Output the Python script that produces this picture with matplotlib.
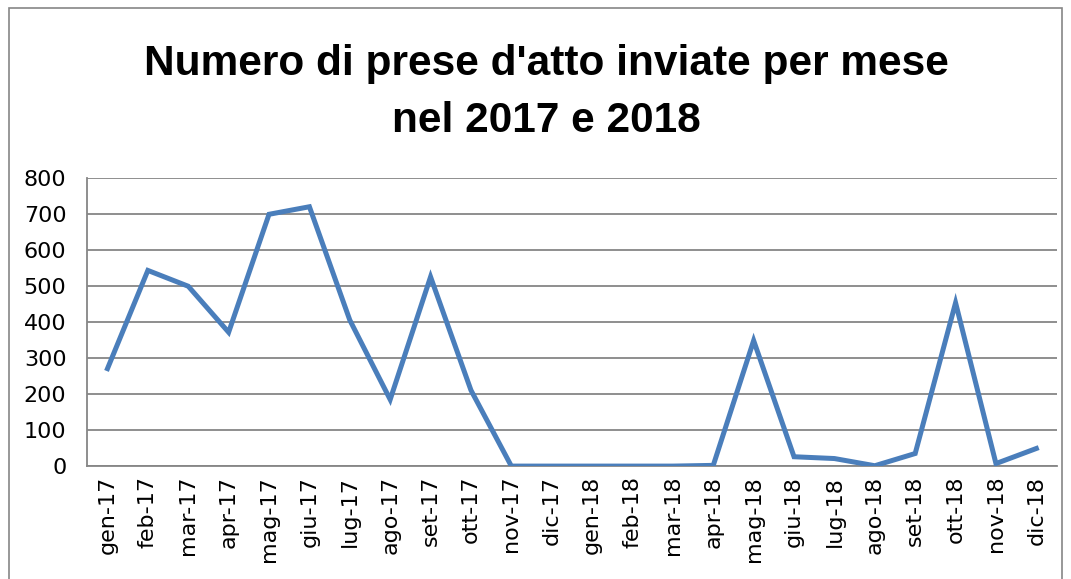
import matplotlib.pyplot as plt
from matplotlib.patches import Rectangle

mesi = ["gen-17", "feb-17", "mar-17", "apr-17", "mag-17", "giu-17", "lug-17", "ago-17",
        "set-17", "ott-17", "nov-17", "dic-17", "gen-18", "feb-18", "mar-18", "apr-18",
        "mag-18", "giu-18", "lug-18", "ago-18", "set-18", "ott-18", "nov-18", "dic-18"]
prese = [271, 544, 500, 372, 700, 721, 406, 185, 526, 211, 0, 0,
         0, 0, 0, 2, 349, 26, 21, 1, 35, 454, 7, 49]
y_ticks = [0, 100, 200, 300, 400, 500, 600, 700, 800]

fig = plt.figure(figsize=(10.71, 5.79), dpi=100)
ax = fig.add_axes([0.0815, 0.195, 0.905, 0.497])

x = list(range(len(mesi)))
ax.plot(x, prese, color="#4A7EBB", linewidth=3.6, solid_joinstyle="miter", zorder=3)

ax.set_xlim(-0.5, len(mesi) - 0.5)
ax.set_ylim(0, 800)
ax.set_yticks(y_ticks)
ax.set_xticks(x)
ax.set_xticklabels(mesi, rotation=90, fontsize=16)
ax.tick_params(axis="y", labelsize=16, length=0, pad=15)
ax.tick_params(axis="x", length=0, pad=7)
ax.grid(axis="y", color="#868686", linewidth=1.3, zorder=1)
for s in ["top", "right"]:
    ax.spines[s].set_visible(False)
for s in ["left", "bottom"]:
    ax.spines[s].set_color("#868686")
    ax.spines[s].set_linewidth(1.3)

fig.text(0.51, 0.841, "Numero di prese d'atto inviate per mese\nnel 2017 e 2018",
         ha="center", va="center", fontsize=30.5, fontweight="bold", linespacing=1.55,
         family="Liberation Sans")

fig.patches.append(Rectangle((0.008, -0.02), 0.984, 1.006, transform=fig.transFigure,
                             fill=False, edgecolor="#868686", linewidth=1.2))

fig.savefig("out.png", dpi=100)
